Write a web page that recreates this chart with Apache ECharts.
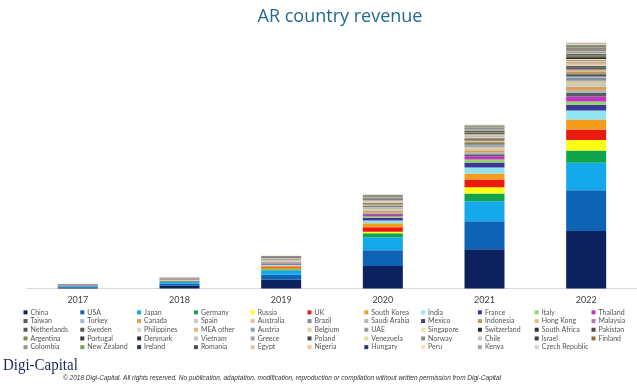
<!DOCTYPE html>
<html>
<head>
<meta charset="utf-8">
<script src="https://cdn.jsdelivr.net/npm/echarts@6/dist/echarts.min.js"></script>
<style>
html,body{margin:0;padding:0;background:#ffffff;}
#chart{width:637px;height:389px;}
</style>
</head>
<body>
<div id="chart"></div>
<script>
// Categories (years)
var years = ['2017', '2018', '2019', '2020', '2021', '2022'];

// Countries, in legend order (row by row, 11 per row); stacked bottom to top
var countries = [
  'China','USA','Japan','Germany','Russia','UK','South Korea','India','France','Italy','Thailand',
  'Taiwan','Turkey','Canada','Spain','Australia','Brazil','Saudi Arabia','Mexico','Indonesia','Hong Kong','Malaysia',
  'Netherlands','Sweden','Philippines','MEA other','Austria','Belgium','UAE','Singapore','Switzerland','South Africa','Pakistan',
  'Argentina','Portugal','Denmark','Vietnam','Greece','Poland','Venezuela','Norway','Chile','Israel','Finland',
  'Colombia','New Zealand','Ireland','Romania','Egypt','Nigeria','Hungary','Peru','Kenya','Czech Republic'
];

var colors = [
  '#0c215e','#0e63b4','#13a9ea','#10a44d','#ffff14','#ea1a0e','#f49d1c','#8fe6f2','#3d3898','#93d866','#c233c2',
  '#565c60','#a9b8c8','#d9a05b','#c9c9c0','#d6c79a','#7e8fa6','#b8b8b0','#3f4a66','#b89a50','#e0c47a','#b07ba8',
  '#4e5c48','#5a5a5a','#d8d8c8','#f0b080','#8fa0b0','#e2cfa0','#9a9a90','#eee6a8','#2a2a2a','#333333','#6a3a48',
  '#7a8a4a','#3a3a3a','#2e2e36','#c0c4c8','#9ca89a','#464646','#e8dc9a','#8c8c8c','#bfc8c0','#3c3c44','#8a7040',
  '#8a9a86','#7aa050','#2c3a60','#5a4a4a','#d8c8a8','#f0c890','#263a70','#f0e4b0','#a0a8a0','#d8d4cc'
];

// Revenue per country ($B), one array per year, same order as countries
var y2017 = [
  0.4, 0.3, 0.2, 0.06, 0.02, 0.06, 0.05, 0.03, 0.04, 0.02, 0.02,
  0.03, 0.02, 0.04, 0.02, 0.025, 0.02, 0.01, 0.015, 0.01, 0.01, 0.008,
  0.012, 0.01, 0.008, 0.012, 0.005, 0.005, 0.005, 0.005, 0.006, 0.005, 0.004,
  0.005, 0.004, 0.005, 0.005, 0.004, 0.005, 0.003, 0.005, 0.004, 0.005, 0.004,
  0.004, 0.004, 0.004, 0.004, 0.005, 0.005, 0.003, 0.003, 0.002, 0.003
];
var y2018 = [
  1.1, 0.7, 0.6, 0.15, 0.05, 0.15, 0.15, 0.1, 0.1, 0.05, 0.05,
  0.07, 0.04, 0.09, 0.05, 0.06, 0.04, 0.02, 0.03, 0.03, 0.03, 0.02,
  0.03, 0.02, 0.02, 0.03, 0.02, 0.02, 0.01, 0.02, 0.02, 0.01, 0.01,
  0.01, 0.01, 0.012, 0.01, 0.008, 0.012, 0.006, 0.01, 0.01, 0.012, 0.01,
  0.01, 0.008, 0.01, 0.008, 0.01, 0.01, 0.006, 0.006, 0.005, 0.006
];
var y2019 = [
  3.1, 1.8, 1.5, 0.5, 0.2, 0.5, 0.5, 0.3, 0.3, 0.2, 0.2,
  0.2, 0.1, 0.25, 0.15, 0.17, 0.12, 0.07, 0.1, 0.1, 0.08, 0.05,
  0.1, 0.07, 0.05, 0.09, 0.05, 0.05, 0.04, 0.05, 0.06, 0.04, 0.03,
  0.04, 0.03, 0.04, 0.03, 0.03, 0.04, 0.02, 0.04, 0.03, 0.04, 0.03,
  0.03, 0.03, 0.03, 0.02, 0.03, 0.03, 0.02, 0.02, 0.01, 0.02
];
var y2020 = [
  8.0, 5.7, 4.6, 1.4, 0.6, 1.6, 1.4, 1.0, 0.9, 0.5, 0.6,
  0.5, 0.3, 0.6, 0.4, 0.45, 0.35, 0.2, 0.3, 0.3, 0.22, 0.15,
  0.27, 0.2, 0.15, 0.27, 0.13, 0.13, 0.13, 0.14, 0.16, 0.12, 0.1,
  0.12, 0.1, 0.12, 0.1, 0.08, 0.13, 0.06, 0.12, 0.1, 0.12, 0.1,
  0.09, 0.08, 0.1, 0.08, 0.09, 0.09, 0.06, 0.06, 0.04, 0.06
];
var y2021 = [
  14.0, 10.0, 7.2, 2.75, 2.25, 2.75, 2.1, 2.2, 1.8, 1.0, 1.2,
  0.7, 0.5, 0.9, 0.6, 0.65, 0.55, 0.3, 0.45, 0.45, 0.35, 0.25,
  0.4, 0.3, 0.25, 0.4, 0.2, 0.2, 0.2, 0.22, 0.25, 0.18, 0.16,
  0.18, 0.15, 0.18, 0.17, 0.12, 0.2, 0.09, 0.18, 0.15, 0.18, 0.15,
  0.14, 0.12, 0.15, 0.12, 0.14, 0.14, 0.09, 0.09, 0.06, 0.09
];
var y2022 = [
  20.5, 14.6, 9.8, 4.4, 3.7, 3.8, 3.6, 3.2, 2.0, 1.2, 1.8,
  1.2, 0.8, 1.5, 1.0, 1.1, 1.0, 0.5, 0.8, 0.8, 0.6, 0.4,
  0.7, 0.5, 0.4, 0.7, 0.35, 0.35, 0.35, 0.35, 0.4, 0.3, 0.3,
  0.3, 0.25, 0.3, 0.3, 0.2, 0.35, 0.15, 0.3, 0.25, 0.3, 0.25,
  0.25, 0.2, 0.25, 0.2, 0.25, 0.25, 0.15, 0.15, 0.1, 0.15
];
var yearData = [y2017, y2018, y2019, y2020, y2021, y2022];

var chart = echarts.init(document.getElementById('chart'), null, {renderer: 'canvas'});

var series = countries.map(function (name, i) {
  return {
    name: name,
    type: 'bar',
    stack: 'total',
    barWidth: 40,
    itemStyle: {color: colors[i]},
    emphasis: {disabled: true},
    data: yearData.map(function (arr) { return arr[i]; })
  };
});

// Legend: 11 columns, 5 rows
var legends = [];
for (var c = 0; c < 11; c++) {
  var names = [];
  for (var r = 0; r < 5; r++) {
    var idx = c + r * 11;
    if (idx < countries.length) names.push(countries[idx]);
  }
  legends.push({
    orient: 'vertical',
    left: 23.5 + 56.8 * c,
    top: 308,
    itemGap: 0,
    itemWidth: 4,
    itemHeight: 4,
    icon: 'rect',
    selectedMode: false,
    padding: 0,
    data: names,
    textStyle: {fontSize: 7, lineHeight: 8.7, color: '#555555', fontFamily: 'Lato', padding: [0, 0, 0, -2]}
  });
}

chart.setOption({
  animation: false,
  color: colors,
  title: {
    text: 'AR country revenue',
    left: 340,
    top: 8,
    padding: 0,
    textAlign: 'center',
    textStyle: {fontSize: 18, fontWeight: 500, color: '#1f6a8e', fontFamily: 'Open Sans'}
  },
  legend: legends,
  grid: {left: 27, width: 612, top: 38.5, bottom: 100.5, containLabel: false},
  xAxis: {
    type: 'category',
    data: years,
    axisLine: {lineStyle: {color: '#d9d9d9', width: 1}},
    axisTick: {show: false},
    axisLabel: {fontSize: 9, color: '#404040', margin: 7, fontFamily: 'Lato'}
  },
  yAxis: {
    type: 'value',
    min: 0,
    max: 89.3,
    show: false,
    splitLine: {show: false}
  },
  series: series,
  graphic: [
    {
      type: 'text',
      left: 3,
      top: 357,
      scaleX: 0.88,
      style: {text: 'Digi-Capital', fontSize: 17, fontFamily: 'Liberation Serif', fill: '#1b2a5a'}
    },
    {
      type: 'text',
      left: 63,
      top: 374.5,
      style: {
        text: '\u00a9 2018 Digi-Capital. All rights reserved. No publication, adaptation, modification, reproduction or compilation without written permission from Digi-Capital',
        fontSize: 6.5, fontStyle: 'italic', fontFamily: 'Liberation Sans', fill: '#333333'
      }
    }
  ]
});
</script>
</body>
</html>
